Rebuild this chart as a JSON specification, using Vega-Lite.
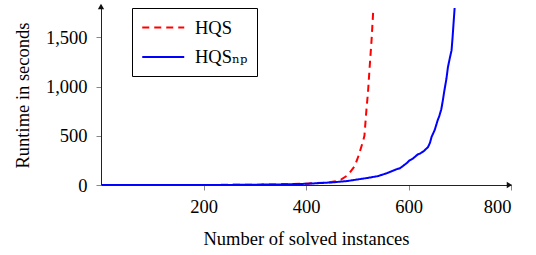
{
  "$schema": "https://vega.github.io/schema/vega-lite/v6.json",
  "autosize": "none",
  "width": 410,
  "height": 180,
  "padding": {"left": 101, "top": 5, "right": 25, "bottom": 70},
  "background": "white",
  "config": {
    "font": "Liberation Serif, Times New Roman, DejaVu Serif, serif",
    "view": {"stroke": null},
    "axis": {
      "labelFont": "Liberation Serif, Times New Roman, DejaVu Serif, serif",
      "titleFont": "Liberation Serif, Times New Roman, DejaVu Serif, serif",
      "labelFontSize": 18.5,
      "titleFontSize": 18.5,
      "titleFontWeight": "normal",
      "labelColor": "black",
      "titleColor": "black",
      "domainColor": "#222",
      "domainWidth": 1,
      "tickColor": "#888",
      "tickSize": 5,
      "grid": false
    },
    "legend": {
      "orient": "none",
      "legendX": 31,
      "legendY": 3,
      "title": null,
      "strokeColor": "black",
      "fillColor": "white",
      "padding": 9,
      "symbolType": "M-1,0H3.54",
      "symbolSize": 342,
      "symbolStrokeWidth": 1.8,
      "symbolFillColor": "transparent",
      "labelFont": "Liberation Serif, Times New Roman, DejaVu Serif, serif",
      "labelFontSize": 18.5,
      "labelColor": "black",
      "labelOffset": 33,
      "rowPadding": 9.5
    }
  },
  "datasets": {
    "curves": [
      {"series": "HQS", "n": 0, "t": 0},
      {"series": "HQS", "n": 100, "t": 0},
      {"series": "HQS", "n": 200, "t": 0.5},
      {"series": "HQS", "n": 300, "t": 3},
      {"series": "HQS", "n": 350, "t": 7},
      {"series": "HQS", "n": 400, "t": 13},
      {"series": "HQS", "n": 446, "t": 27},
      {"series": "HQS", "n": 460, "t": 40},
      {"series": "HQS", "n": 469, "t": 57},
      {"series": "HQS", "n": 482, "t": 101},
      {"series": "HQS", "n": 495, "t": 192},
      {"series": "HQS", "n": 503, "t": 304},
      {"series": "HQS", "n": 511, "t": 440},
      {"series": "HQS", "n": 514, "t": 500},
      {"series": "HQS", "n": 518, "t": 770},
      {"series": "HQS", "n": 521, "t": 945},
      {"series": "HQS", "n": 524.5, "t": 1220},
      {"series": "HQS", "n": 528, "t": 1480},
      {"series": "HQS", "n": 531.5, "t": 1800},
      {"series": "HQS_np", "n": 0, "t": 0},
      {"series": "HQS_np", "n": 100, "t": 0},
      {"series": "HQS_np", "n": 200, "t": 0.5},
      {"series": "HQS_np", "n": 250, "t": 1},
      {"series": "HQS_np", "n": 300, "t": 3},
      {"series": "HQS_np", "n": 350, "t": 6},
      {"series": "HQS_np", "n": 400, "t": 12},
      {"series": "HQS_np", "n": 452, "t": 27},
      {"series": "HQS_np", "n": 480, "t": 40},
      {"series": "HQS_np", "n": 518, "t": 70},
      {"series": "HQS_np", "n": 540, "t": 90},
      {"series": "HQS_np", "n": 557, "t": 118},
      {"series": "HQS_np", "n": 576, "t": 159},
      {"series": "HQS_np", "n": 583, "t": 169},
      {"series": "HQS_np", "n": 596, "t": 220},
      {"series": "HQS_np", "n": 602, "t": 250},
      {"series": "HQS_np", "n": 609, "t": 270},
      {"series": "HQS_np", "n": 618, "t": 311},
      {"series": "HQS_np", "n": 622, "t": 318},
      {"series": "HQS_np", "n": 630, "t": 345},
      {"series": "HQS_np", "n": 638, "t": 385},
      {"series": "HQS_np", "n": 642, "t": 430},
      {"series": "HQS_np", "n": 645, "t": 489},
      {"series": "HQS_np", "n": 651, "t": 557},
      {"series": "HQS_np", "n": 657, "t": 659},
      {"series": "HQS_np", "n": 660, "t": 700},
      {"series": "HQS_np", "n": 664, "t": 770},
      {"series": "HQS_np", "n": 667, "t": 860},
      {"series": "HQS_np", "n": 670, "t": 960},
      {"series": "HQS_np", "n": 674, "t": 1080},
      {"series": "HQS_np", "n": 677, "t": 1199},
      {"series": "HQS_np", "n": 681, "t": 1300},
      {"series": "HQS_np", "n": 684, "t": 1368},
      {"series": "HQS_np", "n": 686, "t": 1500},
      {"series": "HQS_np", "n": 688, "t": 1650},
      {"series": "HQS_np", "n": 690, "t": 1800}
    ],
    "arrows": [
      {"n": 797, "t": 0, "shape": "triangle-right"},
      {"n": 0, "t": 1815, "shape": "triangle-up"}
    ]
  },
  "layer": [
    {
      "data": {"name": "curves"},
      "mark": {"type": "line", "strokeWidth": 2, "clip": true},
      "encoding": {
        "x": {
          "field": "n", "type": "quantitative",
          "scale": {"domain": [0, 800], "nice": false, "zero": true},
          "axis": {"values": [200, 400, 600, 800], "format": "d", "title": "Number of solved instances", "labelPadding": 7, "titlePadding": 14}
        },
        "y": {
          "field": "t", "type": "quantitative",
          "scale": {"domain": [0, 1830], "nice": false},
          "axis": {"values": [0, 500, 1000, 1500], "format": ",d", "title": "Runtime in seconds", "labelPadding": 9, "titlePadding": 13}
        },
        "color": {
          "field": "series", "type": "nominal",
          "scale": {"domain": ["HQS", "HQS_np"], "range": ["#ff0000", "#0000ff"]},
          "legend": {"labelExpr": "datum.label == 'HQS_np' ? 'HQSₙₚ' : datum.label"}
        },
        "strokeDash": {
          "field": "series", "type": "nominal",
          "scale": {"domain": ["HQS", "HQS_np"], "range": [[7, 5], [1, 0]]},
          "legend": {"labelExpr": "datum.label == 'HQS_np' ? 'HQSₙₚ' : datum.label"}
        },
        "order": {"field": "n", "type": "quantitative"}
      }
    },
    {
      "data": {"name": "arrows"},
      "mark": {"type": "point", "filled": true, "color": "#111", "size": 40, "opacity": 1},
      "encoding": {
        "x": {"field": "n", "type": "quantitative"},
        "y": {"field": "t", "type": "quantitative"},
        "shape": {"field": "shape", "type": "nominal", "scale": null, "legend": null}
      }
    }
  ]
}
